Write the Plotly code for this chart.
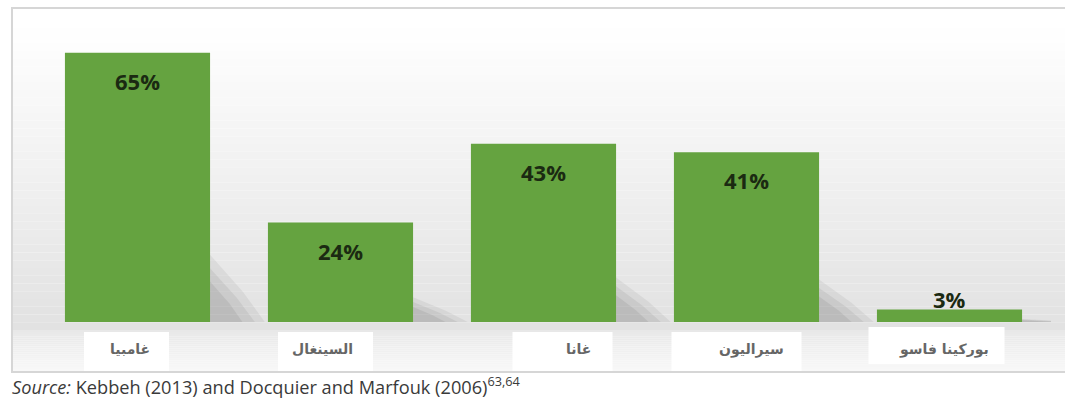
import plotly.graph_objects as go

# ---- data ----
countries = ["غامبيا", "السينغال", "غانا", "سيراليون", "بوركينا فاسو"]
values = [65, 24, 43, 41, 3]
value_labels = ["65%", "24%", "43%", "41%", "3%"]
source_text = "<i>Source:</i> Kebbeh (2013) and Docquier and Marfouk (2006)<sup>63,64</sup>"

# ---- layout / style constants ----
W, H = 1065, 401
ML, MR, MT, MB = 36, 14, 32, 79
PW = W - ML - MR
PH = H - MT - MB
BAR_W = 0.715
PX_PER_CAT = PW / 5
# decorative label boxes (pixel offsets from category centre, widths, vertical spans)
box_dx = [-11, -15, 19, -10, -13]
box_w = [85, 95, 100, 130, 136]
box_y = [(332, 371), (332, 371), (332, 371), (332, 371), (327, 364)]
text_dx = [-8, -18, 35, 5, -6]

def px_x(px):
    return (px - ML) / PW

def px_y(py):
    return 1 - (py - MT) / PH

fig = go.Figure()

fig.add_trace(go.Bar(
    x=countries, y=values,
    marker=dict(color="#65a340", line=dict(width=0)),
    width=BAR_W,
    hoverinfo="skip",
))

shapes = []
# outer box background (white)
shapes.append(dict(type="rect", xref="paper", yref="paper", layer="below",
                   x0=px_x(12), x1=px_x(1075), y0=px_y(372), y1=px_y(8),
                   fillcolor="#ffffff", line=dict(color="#d6d6d6", width=2)))
# gradient background in plot region
N = 40
top_px, bot_px = 20, 330
for i in range(N):
    t = i / (N - 1)
    g = int(round(255 - (255 - 226) * t))
    y0p = top_px + (bot_px - top_px) * i / N
    y1p = top_px + (bot_px - top_px) * (i + 1) / N
    shapes.append(dict(type="rect", xref="paper", yref="paper", layer="below",
                       x0=px_x(13), x1=px_x(1070), y0=px_y(y1p), y1=px_y(y0p),
                       fillcolor=f"rgb({g},{g},{g})", line=dict(width=0)))
# lower band below bars
M = 20
for i in range(M):
    t = i / (M - 1)
    g = int(round(232 + (248 - 232) * t))
    y0p = 330 + (371 - 330) * i / M
    y1p = 330 + (371 - 330) * (i + 1) / M
    shapes.append(dict(type="rect", xref="paper", yref="paper", layer="below",
                       x0=px_x(13), x1=px_x(1070), y0=px_y(y1p), y1=px_y(y0p),
                       fillcolor=f"rgb({g},{g},{g})", line=dict(width=0)))

# soft shadows cast to the right of each bar (derived from the bar values)
for i, v in enumerate(values):
    xr = i + BAR_W / 2
    for k, (sh, sw, op) in enumerate([(1.0, 0.27, 0.09), (0.8, 0.22, 0.10), (0.6, 0.16, 0.12)]):
        hgt = v * 0.25 * sh
        path = (f"M {xr},0 L {xr},{hgt:.3f} "
                f"L {xr + sw * 0.6:.3f},{hgt * 0.45:.3f} L {xr + sw:.3f},0 Z")
        shapes.append(dict(type="path", xref="x", yref="y", layer="below",
                           path=path, fillcolor=f"rgba(90,90,90,{op})",
                           line=dict(width=0)))

# white label boxes
for i in range(len(countries)):
    cx = i + box_dx[i] / PX_PER_CAT
    half = box_w[i] / 2 / PX_PER_CAT
    y0, y1 = box_y[i]
    shapes.append(dict(type="rect", xref="x", yref="paper", layer="above",
                       x0=cx - half, x1=cx + half, y0=px_y(y1), y1=px_y(y0),
                       fillcolor="#ffffff", line=dict(width=0)))

annotations = []
for i, (c, v, lab) in enumerate(zip(countries, values, value_labels)):
    inside = v > 8
    annotations.append(dict(
        x=c, y=v, xref="x", yref="y",
        text=f"<b>{lab}</b>", showarrow=False,
        yanchor="middle", yshift=-28 if inside else 11,
        font=dict(family="Open Sans, Liberation Sans, sans-serif", size=22, color="#1b2a12"),
    ))
    annotations.append(dict(
        x=c, y=px_y(349), xref="x", yref="paper",
        xshift=text_dx[i],
        text=f"<b>{c}</b>", showarrow=False,
        yanchor="middle",
        font=dict(family="DejaVu Sans, sans-serif", size=14, color="#666666"),
    ))

annotations.append(dict(
    x=px_x(10), y=px_y(385), xref="paper", yref="paper",
    xanchor="left", yanchor="middle", showarrow=False,
    text=source_text,
    font=dict(family="Open Sans, Lato, sans-serif", size=18.2, color="#3a3a3a"),
))

fig.update_layout(
    width=W, height=H,
    margin=dict(l=ML, r=MR, t=MT, b=MB),
    paper_bgcolor="#ffffff",
    plot_bgcolor="rgba(0,0,0,0)",
    showlegend=False,
    bargap=0.286,
    xaxis=dict(range=[-0.5, 4.5], showticklabels=False, showgrid=False, zeroline=False,
               showline=False, ticks=""),
    yaxis=dict(range=[0, 70], showticklabels=False, showgrid=False, zeroline=False,
               showline=False, ticks=""),
    shapes=shapes,
    annotations=annotations,
)

fig.write_html("out.html", config={"displayModeBar": False},
               post_script="document.body.style.margin='0';")
